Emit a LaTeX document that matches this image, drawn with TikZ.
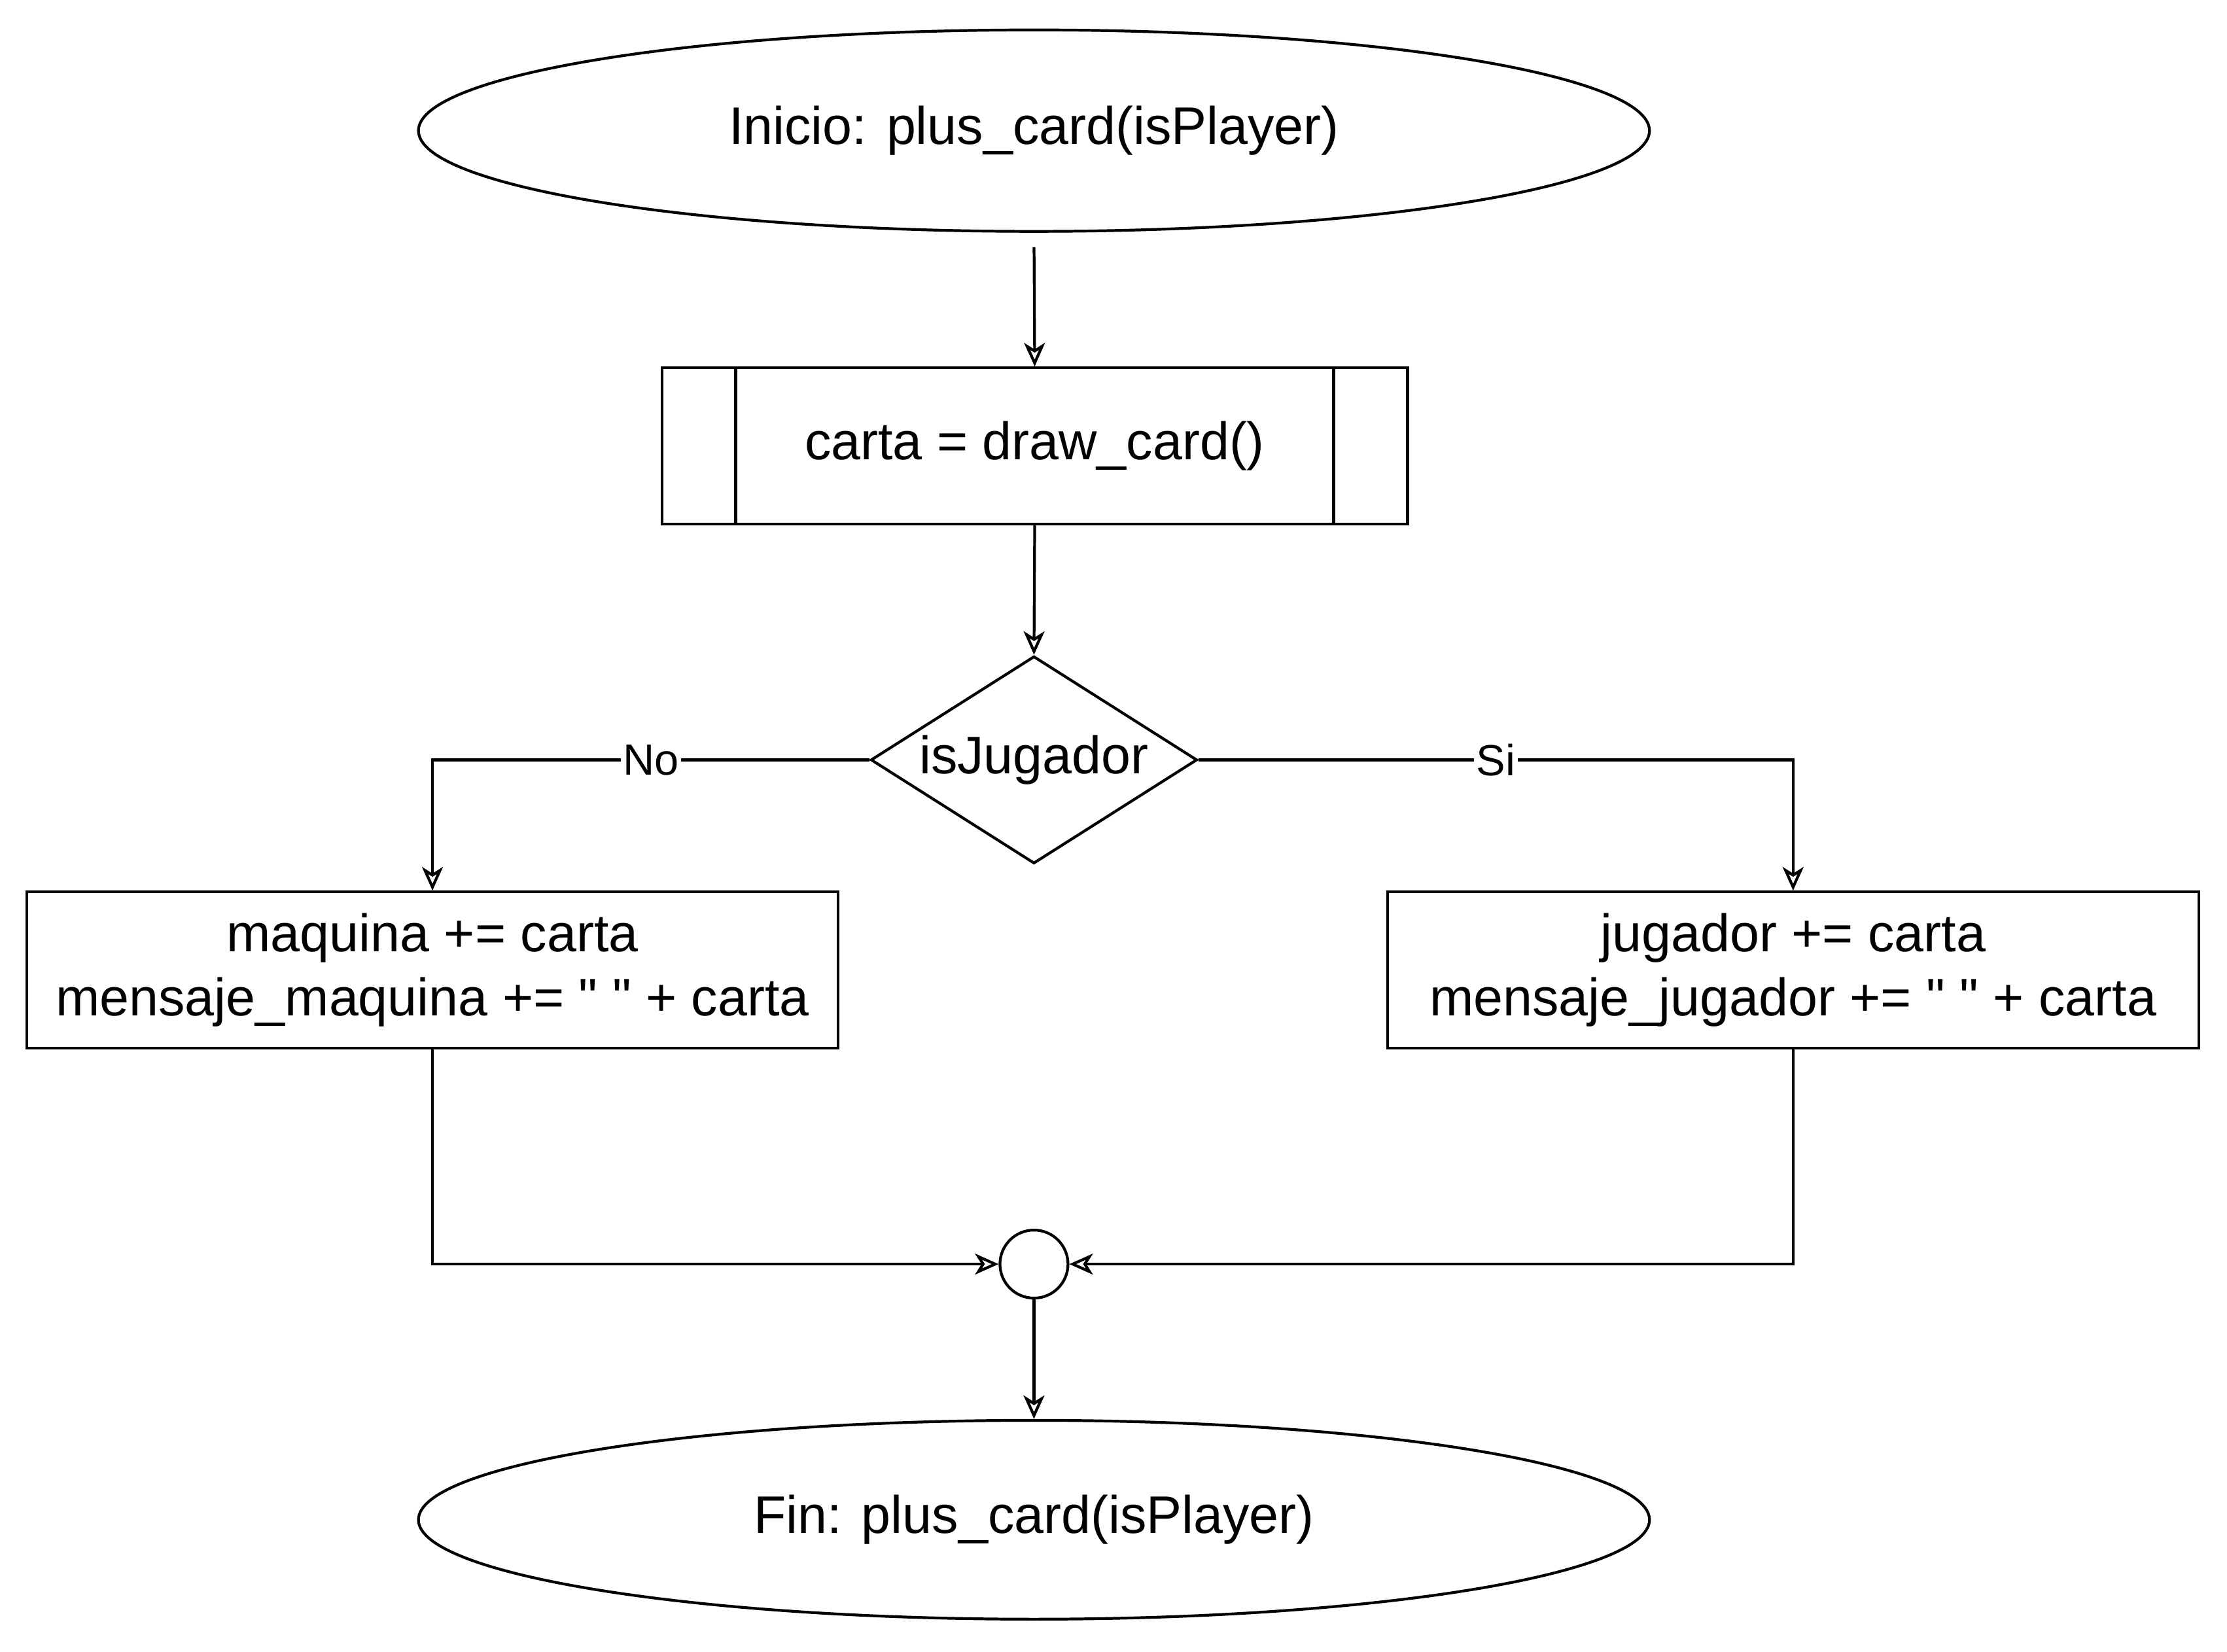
\documentclass[tikz,border=0pt]{standalone}
\usepackage{fontspec}
\setmainfont{Liberation Sans}[Ligatures=TeXOff]
\usetikzlibrary{shapes.geometric,arrows.meta,calc}
\begin{document}
\begin{tikzpicture}[x=0.02171cm,y=-0.02171cm,
  base/.style={draw, line width=1.2pt, font=\fontsize{23}{28}\selectfont, align=center, inner sep=0pt},
  term/.style={base, ellipse, minimum width=18.82cm, minimum height=3.08cm},
  procbox/.style={base, rectangle, minimum width=11.40cm, minimum height=2.39cm},
  decide/.style={base, diamond, aspect=1.575, minimum width=4.99cm, minimum height=3.17cm},
  actbox/.style={base, rectangle, minimum width=12.40cm, minimum height=2.39cm},
  joint/.style={base, circle, minimum size=1.04cm},
  conn/.style={line width=1.2pt, -{Stealth[open, length=0.36cm, width=0.32cm, inset=0.1cm]}},
  lbl/.style={fill=white, inner sep=1pt, font=\fontsize{19}{23}\selectfont}
]
\useasboundingbox (0,0) rectangle (1568,1163);

\node[term] (start) at (728,92) {Inicio: plus\_card(isPlayer)};
\node[procbox] (proc) at (728.5,314) {carta = draw\_card()};
\draw[line width=1.2pt] ($(proc.north west)+(53,0)$) -- ($(proc.south west)+(53,0)$);
\draw[line width=1.2pt] ($(proc.north east)+(-53,0)$) -- ($(proc.south east)+(-53,0)$);
\node[decide] (dec) at (728,535) {isJugador};
\node[actbox] (left) at (304.5,683) {maquina += carta\\mensaje\_maquina += " " + carta};
\node[actbox] (right) at (1262.5,683) {jugador += carta\\mensaje\_jugador += " " + carta};
\node[joint] (join) at (728,890) {};
\node[term, minimum height=3.04cm] (end) at (728,1070) {Fin: plus\_card(isPlayer)};

\draw[conn, shorten <=0.22cm] (start.south) -- (proc.north);
\draw[conn] (proc.south) -- (dec.north);
\draw[conn] (dec.west) -| node[lbl, pos=0.25] {No} (left.north);
\draw[conn] (dec.east) -| node[lbl, pos=0.25] {Si} (right.north);
\draw[conn] (left.south) |- (join.west);
\draw[conn] (right.south) |- (join.east);
\draw[conn] (join.south) -- (end.north);
\end{tikzpicture}
\end{document}
